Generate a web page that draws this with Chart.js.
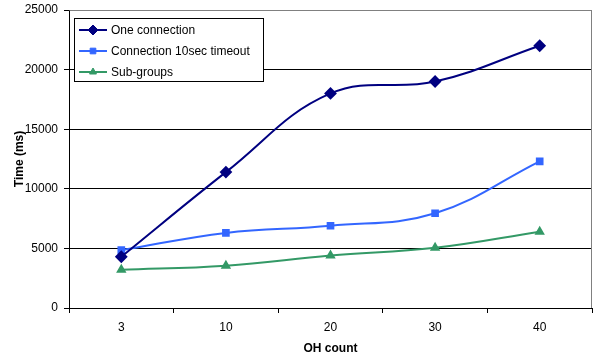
<!DOCTYPE html>
<html>
<head>
<meta charset="utf-8">
<script src="https://cdn.jsdelivr.net/npm/chart.js@4"></script>
<style>
  html, body { margin: 0; padding: 0; background: #fff; }
  #wrap { width: 599px; height: 359px; }
</style>
</head>
<body>
<div id="wrap"><canvas id="timeChart" width="599" height="359"></canvas></div>
<script>
const ohCounts = ['3', '10', '20', '30', '40'];
const oneConnection = [4300, 11400, 18000, 19000, 22000];
const timeout10sec = [4850, 6300, 6900, 7950, 12300];
const subGroups = [3200, 3550, 4400, 5050, 6400];
const yTicks = [0, 5000, 10000, 15000, 20000, 25000];

// legend box drawn inside the plot, Excel style
const boxLegend = {
    id: 'boxLegend',
    afterDraw(chart) {
        const c = chart.ctx;
        c.save();
        c.fillStyle = '#fff';
        c.fillRect(74, 18, 189, 63);
        c.strokeStyle = '#000';
        c.lineWidth = 1;
        c.strokeRect(74.5, 18.5, 189, 63);
        c.font = '12px "Liberation Sans", Arial, sans-serif';
        c.textBaseline = 'middle';
        chart.data.datasets.forEach(function (ds, i) {
            const y = 30 + i * 21;
            c.strokeStyle = ds.borderColor;
            c.lineWidth = 2;
            c.beginPath();
            c.moveTo(79, y);
            c.lineTo(107, y);
            c.stroke();
            c.fillStyle = ds.pointBackgroundColor;
            c.lineWidth = 1;
            Chart.helpers.drawPoint(c, { pointStyle: ds.pointStyle, radius: ds.pointRadius, borderWidth: 1 }, 93, y);
            c.fillStyle = '#000';
            c.fillText(ds.label, 111, y + 1);
        });
        c.restore();
    }
};

// gray frame at top and right of plot
const frame = {
    id: 'frame',
    beforeDatasetsDraw(chart) {
        const a = chart.chartArea;
        const c = chart.ctx;
        c.save();
        c.strokeStyle = '#808080';
        c.lineWidth = 1;
        c.beginPath();
        c.moveTo(Math.round(a.left) + 0.5, Math.round(a.top) + 0.5);
        c.lineTo(Math.round(a.right) - 0.5, Math.round(a.top) + 0.5);
        c.lineTo(Math.round(a.right) - 0.5, Math.round(a.bottom));
        c.stroke();
        c.restore();
    }
};

function series(label, data, color, style, r) {
    return {
        label: label,
        data: data,
        borderColor: color,
        backgroundColor: color,
        pointBackgroundColor: color,
        pointBorderColor: color,
        pointStyle: style,
        pointRadius: r,
        pointHoverRadius: r,
        borderWidth: 2,
        tension: 0.4,
        fill: false
    };
}

const ctx = document.getElementById('timeChart').getContext('2d');
Chart.defaults.font.family = '"Liberation Sans", Arial, sans-serif';
Chart.defaults.font.size = 12;
Chart.defaults.color = '#000';

const timeChart = new Chart(ctx, {
    type: 'line',
    data: {
        labels: ohCounts,
        datasets: [
            series('One connection', oneConnection, '#000080', 'rectRot', 5),
            series('Connection 10sec timeout', timeout10sec, '#3366FF', 'rect', 4),
            series('Sub-groups', subGroups, '#339966', 'triangle', 4)
        ]
    },
    options: {
        responsive: false,
        animation: false,
        layout: { padding: { top: 10, right: 2, left: 0, bottom: 0 } },
        plugins: {
            legend: { display: false },
            tooltip: { enabled: false }
        },
        scales: {
            x: {
                offset: true,
                grid: { drawOnChartArea: false, drawTicks: true, tickLength: 5, color: '#000', offset: true },
                border: { color: '#000', width: 1 },
                ticks: { padding: 7, maxRotation: 0 },
                title: { display: true, text: 'OH count', font: { weight: 'bold', size: 12 }, padding: { top: 0, bottom: 3 } },
                afterFit: function (scale) { scale.height = 51; scale.paddingLeft = 0; scale.paddingRight = 0; }
            },
            y: {
                min: 0,
                max: 25000,
                afterBuildTicks: function (scale) {
                    scale.ticks = yTicks.map(function (v) { return { value: v }; });
                },
                grid: {
                    color: function (c) { return c.tick && c.tick.value === 25000 ? '#808080' : '#000'; },
                    tickColor: '#000',
                    tickLength: 5,
                    drawTicks: true
                },
                border: { color: '#000', width: 1 },
                ticks: {
                    padding: 6,
                    callback: function (v) { return String(v); }
                },
                title: { display: true, text: 'Time (ms)', font: { weight: 'bold', size: 12 }, padding: { top: 12, bottom: 0 } },
                afterFit: function (scale) { scale.width = 69; scale.paddingTop = 0; scale.paddingBottom = 0; }
            }
        }
    },
    plugins: [frame, boxLegend]
});
</script>
</body>
</html>
